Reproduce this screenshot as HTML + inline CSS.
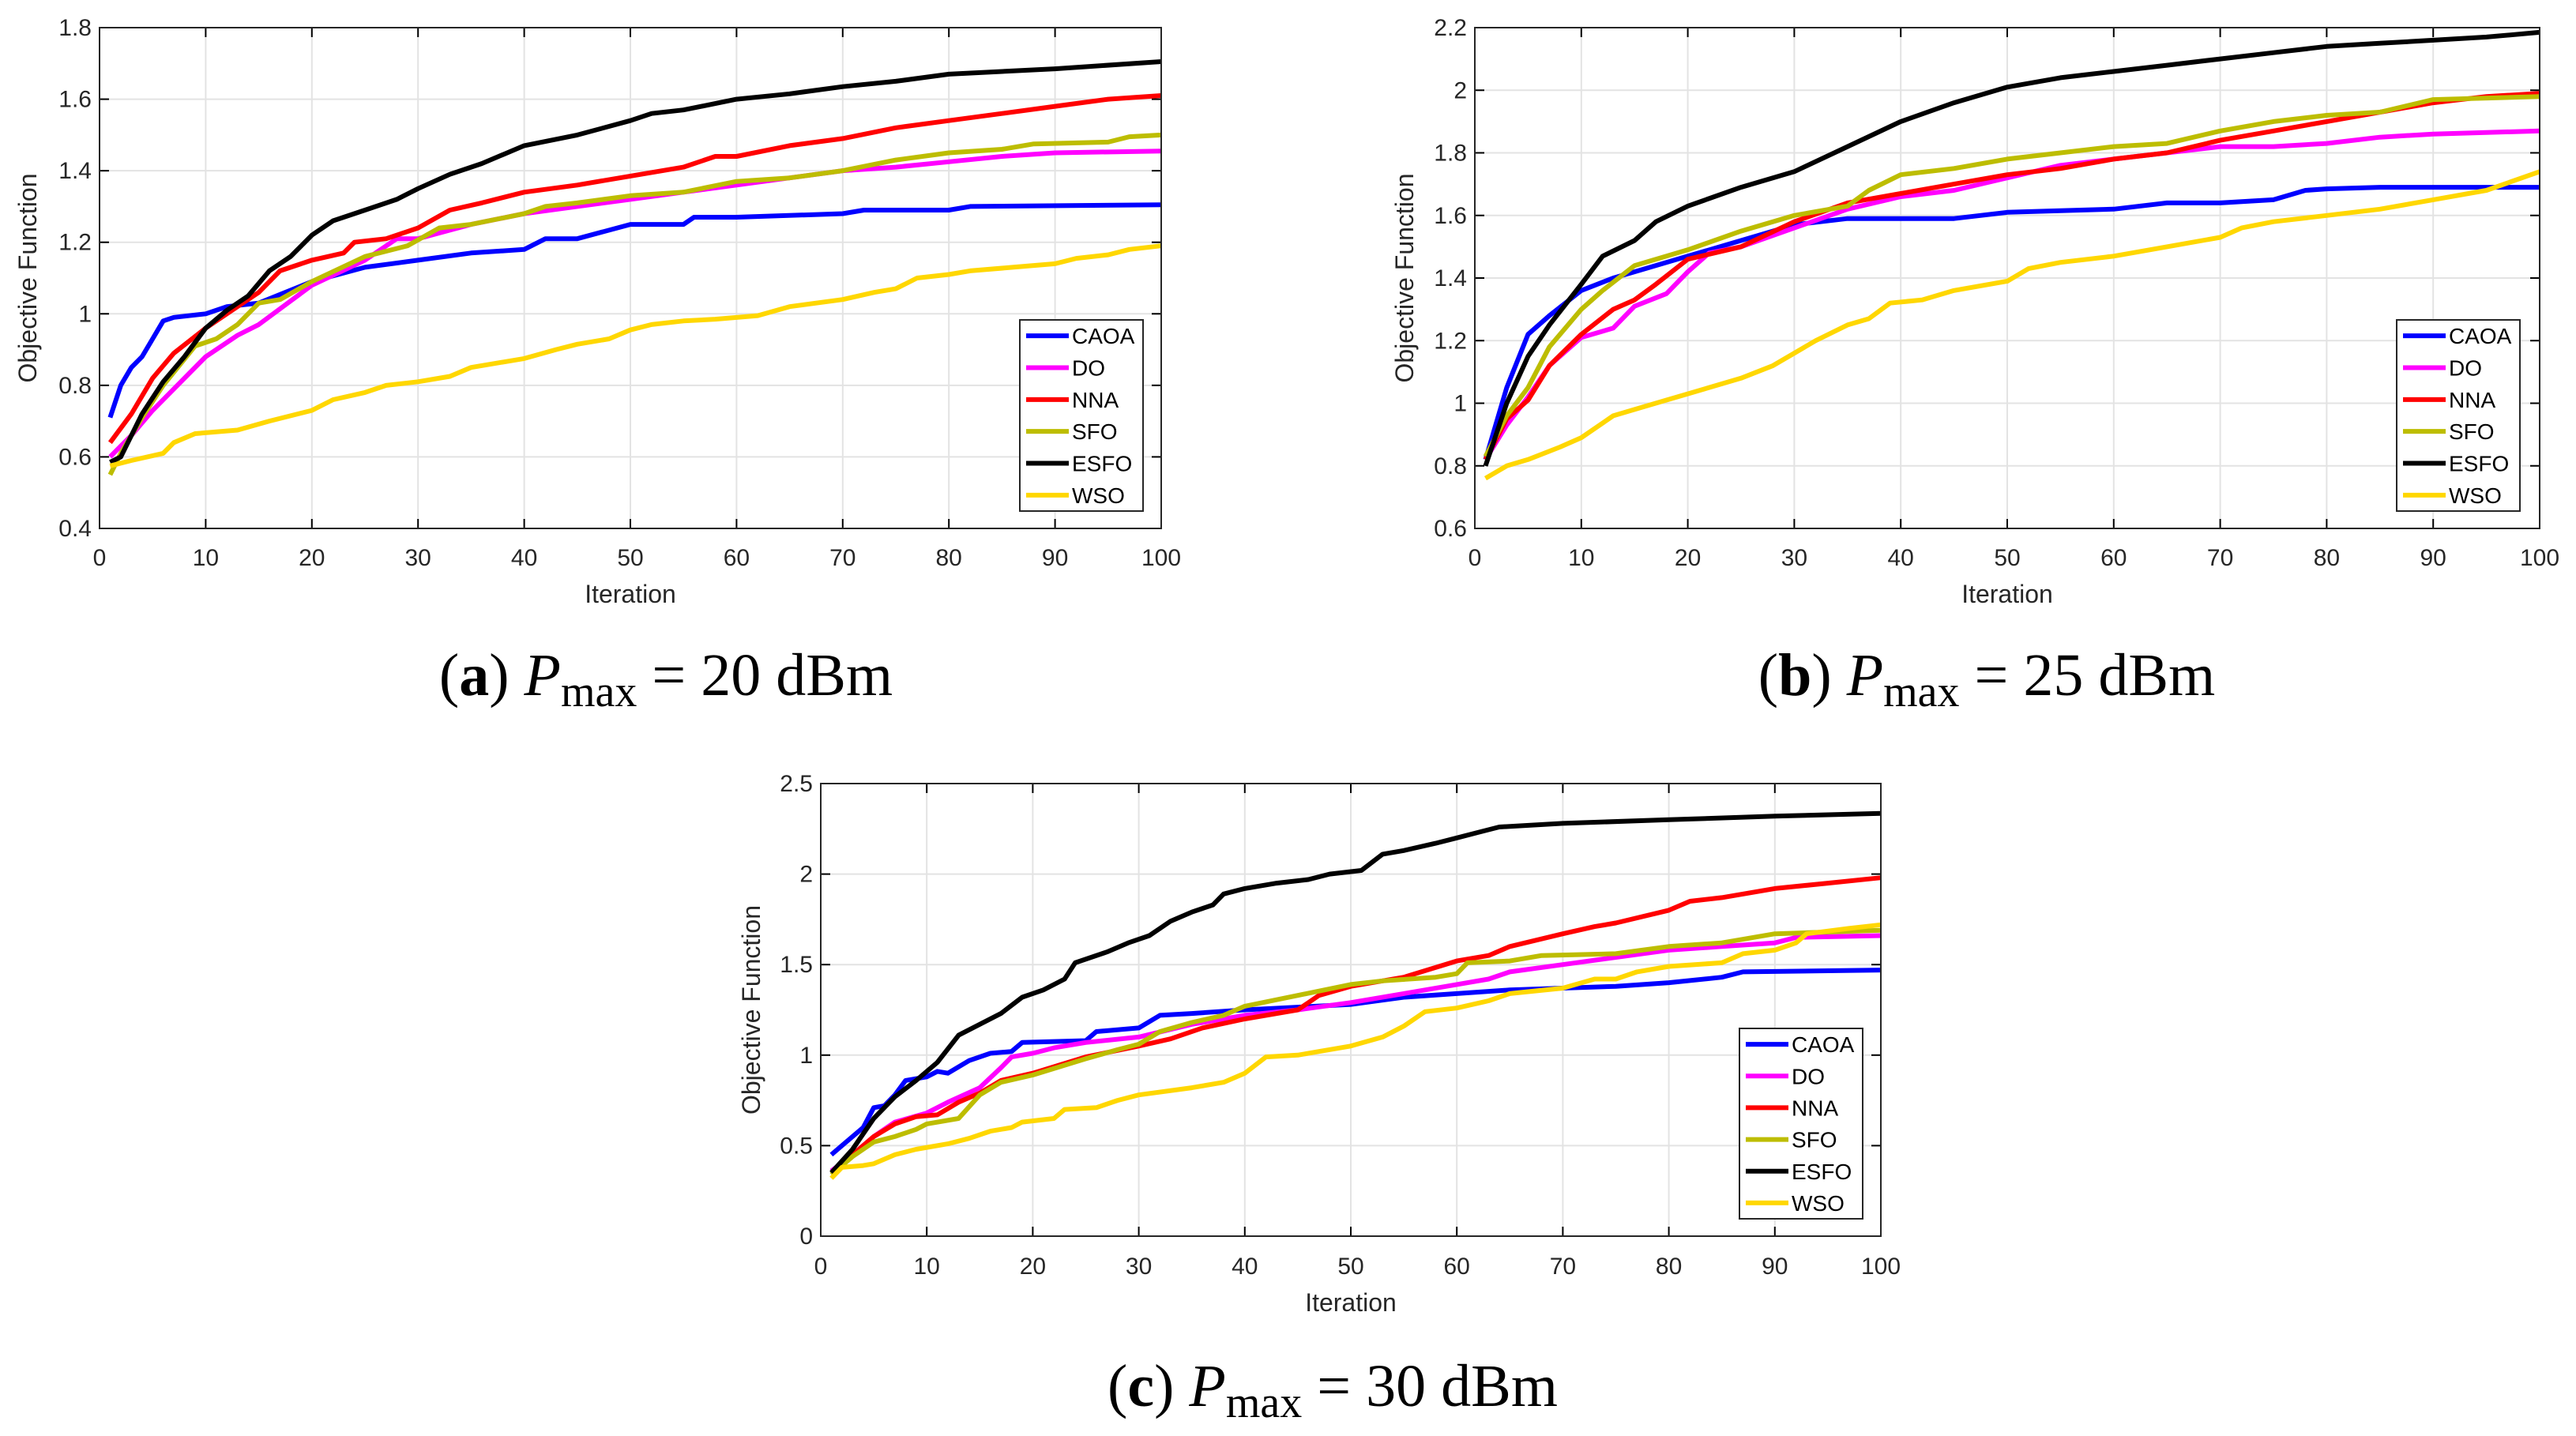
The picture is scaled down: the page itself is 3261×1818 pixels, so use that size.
<!DOCTYPE html>
<html><head><meta charset="utf-8"><style>
html,body{margin:0;padding:0;background:#fff;}
svg{display:block;font-family:"Liberation Sans",sans-serif;}
.cap{font-family:"Liberation Serif",serif;}
</style></head><body>
<svg id="fig" width="3261" height="1818" viewBox="0 0 3261 1818" xmlns="http://www.w3.org/2000/svg">
<text class="cap" x="843" y="880" font-size="76" text-anchor="middle">(<tspan font-weight="bold">a</tspan>) <tspan font-style="italic">P</tspan><tspan font-size="56" dy="14">max</tspan><tspan dy="-14"> = 20 dBm</tspan></text>
<text class="cap" x="2515" y="880" font-size="76" text-anchor="middle">(<tspan font-weight="bold">b</tspan>) <tspan font-style="italic">P</tspan><tspan font-size="56" dy="14">max</tspan><tspan dy="-14"> = 25 dBm</tspan></text>
<text class="cap" x="1687" y="1780" font-size="76" text-anchor="middle">(<tspan font-weight="bold">c</tspan>) <tspan font-style="italic">P</tspan><tspan font-size="56" dy="14">max</tspan><tspan dy="-14"> = 30 dBm</tspan></text>
</svg>
<script>
const seriesNames = ["CAOA","DO","NNA","SFO","ESFO","WSO"];
const seriesColors = ["#0000ff","#ff00ff","#ff0000","#bdbd00","#000000","#ffd700"];
const xTicks = [0,10,20,30,40,50,60,70,80,90,100];
const yTicksA = [0.4,0.6,0.8,1,1.2,1.4,1.6,1.8];
const yTicksB = [0.6,0.8,1,1.2,1.4,1.6,1.8,2,2.2];
const yTicksC = [0,0.5,1,1.5,2,2.5];

const a_CAOA=[[1,.71],[2,.80],[3,.85],[4,.88],[5,.93],[6,.98],[7,.99],[10,1.0],[12,1.02],[15,1.03],[20,1.09],[25,1.13],[30,1.15],[35,1.17],[40,1.18],[42,1.21],[45,1.21],[50,1.25],[55,1.25],[56,1.27],[60,1.27],[70,1.28],[72,1.29],[80,1.29],[82,1.30],[100,1.305]];
const a_DO=[[1,.60],[3,.66],[5,.73],[7,.79],[10,.88],[13,.94],[15,.97],[20,1.08],[25,1.15],[28,1.21],[30,1.21],[35,1.25],[40,1.28],[45,1.30],[50,1.32],[55,1.34],[60,1.36],[65,1.38],[70,1.40],[75,1.41],[80,1.425],[85,1.44],[90,1.45],[100,1.455]];
const a_NNA=[[1,.64],[3,.72],[5,.82],[7,.89],[10,.96],[13,1.02],[15,1.06],[17,1.12],[20,1.15],[23,1.17],[24,1.20],[27,1.21],[30,1.24],[33,1.29],[36,1.31],[40,1.34],[45,1.36],[50,1.385],[55,1.41],[58,1.44],[60,1.44],[65,1.47],[70,1.49],[75,1.52],[80,1.54],[85,1.56],[90,1.58],[95,1.60],[100,1.61]];
const a_SFO=[[1,.55],[2,.61],[4,.71],[6,.80],[9,.91],[11,.93],[13,.97],[15,1.03],[17,1.04],[20,1.09],[25,1.16],[29,1.19],[32,1.24],[35,1.25],[40,1.28],[42,1.30],[45,1.31],[50,1.33],[55,1.34],[60,1.37],[65,1.38],[70,1.40],[75,1.43],[80,1.45],[85,1.46],[88,1.475],[95,1.48],[97,1.495],[100,1.50]];
const a_ESFO=[[1,.585],[2,.60],[4,.72],[6,.81],[8,.88],[10,.96],[12,1.01],[14,1.05],[16,1.12],[18,1.16],[20,1.22],[22,1.26],[25,1.29],[28,1.32],[30,1.35],[33,1.39],[36,1.42],[40,1.47],[45,1.50],[50,1.54],[52,1.56],[55,1.57],[60,1.60],[65,1.615],[70,1.635],[75,1.65],[80,1.67],[90,1.685],[100,1.705]];
const a_WSO=[[1,.575],[3,.59],[6,.61],[7,.64],[9,.665],[13,.675],[16,.70],[20,.73],[22,.76],[25,.78],[27,.80],[30,.81],[33,.825],[35,.85],[38,.865],[40,.875],[43,.90],[45,.915],[48,.93],[50,.955],[52,.97],[55,.98],[58,.985],[62,.995],[65,1.02],[70,1.04],[73,1.06],[75,1.07],[77,1.10],[80,1.11],[82,1.12],[86,1.13],[90,1.14],[92,1.155],[95,1.165],[97,1.18],[100,1.19]];

const b_CAOA=[[1,.82],[3,1.05],[5,1.22],[7,1.28],[10,1.36],[13,1.40],[15,1.42],[20,1.47],[25,1.52],[30,1.57],[35,1.59],[40,1.59],[45,1.59],[50,1.61],[55,1.615],[60,1.62],[65,1.64],[70,1.64],[75,1.65],[78,1.68],[80,1.685],[85,1.69],[100,1.69]];
const b_DO=[[1,.82],[3,.93],[5,1.02],[7,1.12],[10,1.21],[13,1.24],[15,1.31],[18,1.35],[20,1.42],[22,1.48],[25,1.50],[30,1.56],[35,1.62],[40,1.66],[45,1.68],[50,1.72],[55,1.76],[60,1.78],[65,1.80],[70,1.82],[75,1.82],[80,1.83],[85,1.85],[90,1.86],[100,1.87]];
const b_NNA=[[1,.82],[3,.95],[5,1.01],[7,1.12],[10,1.22],[13,1.30],[15,1.33],[17,1.38],[20,1.46],[25,1.50],[30,1.58],[35,1.64],[40,1.67],[45,1.70],[50,1.73],[55,1.75],[60,1.78],[65,1.80],[70,1.84],[75,1.87],[80,1.90],[85,1.93],[90,1.96],[95,1.98],[100,1.99]];
const b_SFO=[[1,.83],[3,.96],[5,1.05],[7,1.18],[10,1.30],[12,1.36],[15,1.44],[20,1.49],[25,1.55],[30,1.60],[35,1.63],[37,1.68],[40,1.73],[45,1.75],[50,1.78],[55,1.80],[60,1.82],[65,1.83],[70,1.87],[75,1.90],[80,1.92],[85,1.93],[90,1.97],[100,1.98]];
const b_ESFO=[[1,.80],[3,1.00],[5,1.15],[7,1.25],[10,1.38],[12,1.47],[15,1.52],[17,1.58],[20,1.63],[25,1.69],[30,1.74],[35,1.82],[40,1.90],[45,1.96],[50,2.01],[55,2.04],[60,2.06],[65,2.08],[70,2.10],[75,2.12],[80,2.14],[85,2.15],[90,2.16],[95,2.17],[100,2.185]];
const b_WSO=[[1,.76],[3,.80],[5,.82],[8,.86],[10,.89],[13,.96],[15,.98],[18,1.01],[20,1.03],[25,1.08],[28,1.12],[30,1.16],[32,1.20],[35,1.25],[37,1.27],[39,1.32],[42,1.33],[45,1.36],[50,1.39],[52,1.43],[55,1.45],[60,1.47],[65,1.50],[70,1.53],[72,1.56],[75,1.58],[80,1.60],[85,1.62],[90,1.65],[95,1.68],[100,1.74]];

const c_CAOA=[[1,.45],[2,.5],[3,.55],[4,.6],[5,.71],[6,.72],[7,.78],[8,.86],[10,.88],[11,.91],[12,.90],[14,.97],[16,1.01],[18,1.02],[19,1.07],[25,1.08],[26,1.13],[30,1.15],[32,1.22],[35,1.23],[40,1.25],[50,1.28],[55,1.32],[60,1.34],[65,1.36],[70,1.37],[75,1.38],[80,1.40],[85,1.43],[87,1.46],[100,1.47]];
const c_DO=[[1,.36],[3,.45],[5,.55],[7,.63],[10,.68],[12,.74],[15,.82],[17,.93],[18,.99],[20,1.01],[22,1.04],[25,1.07],[30,1.10],[35,1.17],[40,1.22],[45,1.25],[50,1.29],[55,1.34],[60,1.39],[63,1.42],[65,1.46],[70,1.50],[75,1.54],[80,1.58],[85,1.60],[90,1.62],[92,1.65],[100,1.66]];
const c_NNA=[[1,.35],[3,.45],[5,.55],[7,.62],[9,.66],[11,.67],[13,.74],[15,.79],[17,.86],[20,.90],[25,.99],[30,1.05],[33,1.09],[36,1.15],[40,1.20],[45,1.25],[47,1.33],[50,1.38],[55,1.43],[60,1.52],[63,1.55],[65,1.60],[70,1.67],[73,1.71],[75,1.73],[80,1.80],[82,1.85],[85,1.87],[90,1.92],[95,1.95],[100,1.98]];
const c_SFO=[[1,.34],[3,.44],[5,.52],[7,.55],[9,.59],[10,.62],[13,.65],[15,.78],[17,.85],[20,.89],[25,.98],[28,1.03],[30,1.06],[32,1.13],[35,1.18],[38,1.22],[40,1.27],[45,1.33],[50,1.39],[53,1.41],[58,1.43],[60,1.45],[61,1.51],[65,1.52],[68,1.55],[75,1.56],[80,1.60],[85,1.62],[90,1.67],[100,1.69]];
const c_ESFO=[[1,.35],[3,.48],[5,.65],[7,.77],[9,.86],[11,.96],[13,1.11],[15,1.17],[17,1.23],[19,1.32],[21,1.36],[23,1.42],[24,1.51],[27,1.57],[29,1.62],[31,1.66],[33,1.74],[35,1.79],[37,1.83],[38,1.89],[40,1.92],[43,1.95],[46,1.97],[48,2.00],[51,2.02],[53,2.11],[55,2.13],[58,2.17],[60,2.20],[62,2.23],[64,2.26],[70,2.28],[80,2.30],[90,2.32],[100,2.335]];
const c_WSO=[[1,.32],[2,.38],[4,.39],[5,.40],[7,.45],[9,.48],[12,.51],[14,.54],[16,.58],[18,.60],[19,.63],[22,.65],[23,.70],[26,.71],[28,.75],[30,.78],[35,.82],[38,.85],[40,.90],[42,.99],[45,1.00],[47,1.02],[50,1.05],[53,1.10],[55,1.16],[57,1.24],[60,1.26],[63,1.30],[65,1.34],[70,1.37],[73,1.42],[75,1.42],[77,1.46],[80,1.49],[85,1.51],[87,1.56],[90,1.58],[92,1.62],[93,1.67],[97,1.70],[100,1.72]];

const NS="http://www.w3.org/2000/svg";
const fig=document.getElementById('fig');
function mk(tag,attrs,parent){const e=document.createElementNS(NS,tag);for(const k in attrs)e.setAttribute(k,attrs[k]);(parent||fig).appendChild(e);return e;}

function drawChart(id,box,yTicks,series,leg,xLabY,xTitleY,yTitleX){
  const [L,T,R,B]=box;const yMin=yTicks[0],yMax=yTicks[yTicks.length-1];
  const sx=v=>L+(v-0)/(100-0)*(R-L);
  const sy=v=>B-(v-yMin)/(yMax-yMin)*(B-T);
  const g=mk('g',{});
  
  
  mk('rect',{x:L,y:T,width:R-L,height:B-T,fill:'#fff'},g);
  xTicks.forEach(t=>{
    const gl=mk('line',{x1:sx(t),x2:sx(t),y1:T,y2:B,stroke:'#e3e3e3','stroke-width':2},g);
    
    
    mk('line',{x1:sx(t),x2:sx(t),y1:B,y2:B-12,stroke:'#000','stroke-width':2},g);
    mk('line',{x1:sx(t),x2:sx(t),y1:T,y2:T+12,stroke:'#000','stroke-width':2},g);
    const tl=mk('text',{x:sx(t),y:xLabY,'font-size':30,'text-anchor':'middle',fill:'#262626'},g);
    tl.textContent=t;
    
    
  });
  yTicks.forEach(t=>{
    const gl=mk('line',{x1:L,x2:R,y1:sy(t),y2:sy(t),stroke:'#e3e3e3','stroke-width':2},g);
    
    
    mk('line',{x1:L,x2:L+12,y1:sy(t),y2:sy(t),stroke:'#000','stroke-width':2},g);
    mk('line',{x1:R,x2:R-12,y1:sy(t),y2:sy(t),stroke:'#000','stroke-width':2},g);
    const tl=mk('text',{x:L-10,y:sy(t)+10,'font-size':30,'text-anchor':'end',fill:'#262626'},g);
    tl.textContent=String(t);
    
    
  });
  series.forEach((s,i)=>{
    const d=s.map((p,j)=>(j?'L':'M')+sx(p[0]).toFixed(1)+','+sy(p[1]).toFixed(1)).join(' ');
    const pl=mk('path',{d:d,fill:'none',stroke:seriesColors[i],'stroke-width':6,'stroke-linejoin':'round'},g);
    
    
  });
  const ax=mk('rect',{x:L,y:T,width:R-L,height:B-T,fill:'none',stroke:'#262626','stroke-width':2},g);
  
  
  const xt=mk('text',{x:(L+R)/2,y:xTitleY,'font-size':32,'text-anchor':'middle',fill:'#262626'},g);
  xt.textContent='Iteration';
  
  
  const yt=mk('text',{x:0,y:0,'font-size':32,'text-anchor':'middle',fill:'#262626',transform:`translate(${yTitleX},${(T+B)/2}) rotate(-90)`},g);
  yt.textContent='Objective Function';
  
  
  const [lx,ly,lw,lh]=leg;
  const lg=mk('g',{},g);
  
  
  mk('rect',{x:lx,y:ly,width:lw,height:lh,fill:'#fff',stroke:'#262626','stroke-width':2},lg);
  const step=lh/6;
  seriesNames.forEach((n,i)=>{
    const cy=ly+step*(i+0.5);
    const e=mk('g',{},lg);
    
    
    mk('line',{x1:lx+8,x2:lx+62,y1:cy,y2:cy,stroke:seriesColors[i],'stroke-width':6},e);
    const t=mk('text',{x:lx+66,y:cy+10,'font-size':28,fill:'#000'},e);
    t.textContent=n;
  });
}
drawChart('a',[126,35,1470,669],yTicksA,[a_CAOA,a_DO,a_NNA,a_SFO,a_ESFO,a_WSO],[1291,405,156,242],716,763,46);
drawChart('b',[1867,35,3215,669],yTicksB,[b_CAOA,b_DO,b_NNA,b_SFO,b_ESFO,b_WSO],[3034,405,156,242],716,763,1789);
drawChart('c',[1039,992,2381,1565],yTicksC,[c_CAOA,c_DO,c_NNA,c_SFO,c_ESFO,c_WSO],[2202,1302,156,241],1613,1660,962);
</script>
</body></html>
